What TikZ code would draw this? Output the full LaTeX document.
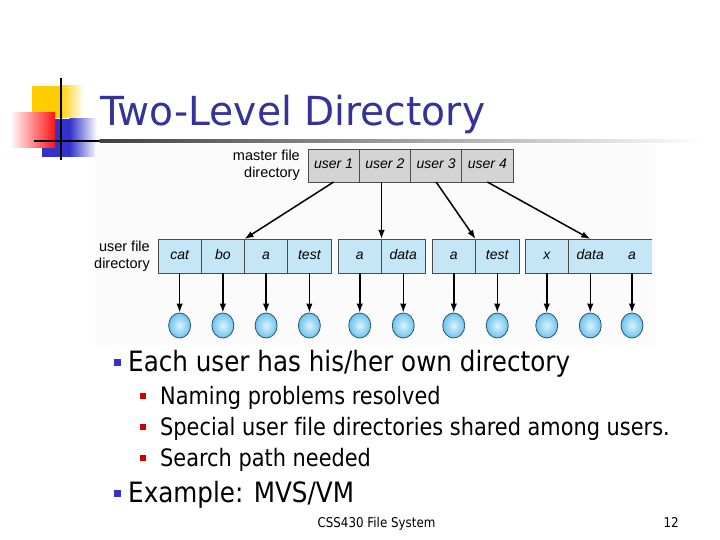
\documentclass[tikz,border=0pt]{standalone}
\usepackage{fontspec}
\setmainfont{DejaVu Sans}[FakeStretch=0.88, Ligatures=NoCommon]
\newfontfamily\subfont{DejaVu Sans}[FakeStretch=0.87, Ligatures=NoCommon]
\newfontfamily\titlefont{DejaVu Sans}[FakeStretch=0.98]
\newfontfamily\diag{Liberation Sans}
\usetikzlibrary{arrows.meta,shapes.geometric}
\definecolor{titleblue}{RGB}{51,51,153}
\definecolor{bulblue}{RGB}{51,51,204}
\definecolor{bulred}{RGB}{204,0,0}
\definecolor{logoyellow}{RGB}{255,204,0}
\definecolor{logored}{RGB}{255,20,20}
\definecolor{logoblue}{RGB}{51,51,204}
\definecolor{cellblue}{RGB}{196,230,246}
\definecolor{cellgray}{RGB}{212,212,212}
\definecolor{circedge}{RGB}{35,85,115}
\definecolor{circfill}{RGB}{110,195,236}
\definecolor{circlight}{RGB}{218,242,253}
\tikzset{
  cellb/.style={draw=black!70, fill=cellblue, line width=0.8pt, minimum height=34pt,
    inner sep=0pt, outer sep=0pt, anchor=west, text height=10pt, text depth=3pt,
    font=\diag\itshape\fontsize{14}{14}\selectfont},
  cellg/.style={draw=black!70, fill=cellgray, line width=0.8pt, minimum height=33pt,
    minimum width=51.25pt, inner sep=0pt, outer sep=0pt, anchor=west,
    text height=10pt, text depth=3pt,
    font=\diag\itshape\fontsize{14}{14}\selectfont},
  filec/.style={ellipse, draw=circedge, line width=0.8pt, minimum width=22pt, minimum height=25pt,
    inner sep=0pt, shading=radial, inner color=circlight, outer color=circfill},
  arr/.style={-{Latex[length=9pt,width=6.5pt]}, line width=1.5pt},
  lbl/.style={anchor=east, align=right, inner sep=0pt, font=\diag\fontsize{14.5}{17}\selectfont},
  bone/.style={fill=bulblue, minimum size=7pt, inner sep=0pt},
  btwo/.style={fill=bulred, minimum size=6pt, inner sep=0pt},
  txtone/.style={anchor=base west, inner sep=0pt, font=\fontsize{28}{28}\selectfont},
  txttwo/.style={anchor=base west, inner sep=0pt, font=\subfont\fontsize{24}{24}\selectfont},
}
\begin{document}
\begin{tikzpicture}[x=1pt,y=-1pt]
\useasboundingbox (0,0) rectangle (720,540);
\fill[white] (0,0) rectangle (720,540);
% logo
\fill[logoyellow] (32,86) rectangle (60,118);
\shade[left color=logoyellow, right color=white] (59.5,86) rectangle (84,118);
\fill[logoblue] (42,119) rectangle (70,157);
\shade[left color=logoblue, right color=white] (69.5,119) rectangle (97,157);
\shade[left color=white, right color=logored] (10,113) rectangle (55,148);
\fill[black] (34,139.8) rectangle (100,142.2);
\shade[left color=black!75, right color=white] (99.5,139.8) rectangle (705,142.2);
\draw[line width=2.5pt] (61,78) -- (61,160);
% title
\node[anchor=base west, inner sep=0pt, text=titleblue, font=\titlefont\fontsize{40}{40}\selectfont] (title) at (100,126) {Two-Level Directory};
% diagram background
\fill[black!1.5] (95,144) rectangle (655,345);
% master directory
\node[lbl] (mlbl) at (300,165.5) {master file\\directory};
\node[cellg] (u1) at (308,165.5) {user 1};
\node[cellg] (u2) at (359.25,165.5) {user 2};
\node[cellg] (u3) at (410.5,165.5) {user 3};
\node[cellg] (u4) at (461.75,165.5) {user 4};
% user file directories
\node[lbl] (ulbl) at (150,256) {user file\\directory};
\node[cellb, minimum width=43.25pt] (c1) at (158,256) {cat};
\node[cellb, minimum width=43.25pt] (c2) at (201.25,256) {bo};
\node[cellb, minimum width=43.25pt] (c3) at (244.5,256) {a};
\node[cellb, minimum width=43.25pt] (c4) at (287.75,256) {test};
\node[cellb, minimum width=43.5pt] (c5) at (338,256) {a};
\node[cellb, minimum width=43.5pt] (c6) at (381.5,256) {data};
\node[cellb, minimum width=43.5pt] (c7) at (432,256) {a};
\node[cellb, minimum width=43.5pt] (c8) at (475.5,256) {test};
\node[cellb, minimum width=43.5pt] (c9) at (525,256) {x};
\node[cellb, minimum width=43.5pt] (c10) at (568.5,256) {data};
\node[cellb, minimum width=40pt, draw=none] (c11) at (612,256) {a};
\draw[black!70, line width=0.8pt] (c11.north west) -- (c11.north east);
\draw[black!70, line width=0.8pt] (c11.south west) -- (c11.south east);
% master to user directories
\draw[arr] (u1.south) -- (c2.north east);
\draw[arr] (u2.south -| c5.north east) -- (c5.north east);
\draw[arr] (u3.south) -- (c7.north east);
\draw[arr] (u4.south) -- (c10.north);
% files
\foreach \c in {1,...,11}{
  \node[filec] (f\c) at (c\c.center |- 0,325.5) {};
  \draw[arr] (c\c.south) -- (f\c.north);
}
% bullets
\node[bone] (b1) at (117,362) {};
\node[txtone] (t1) at (128,371) {Each user has his/her own directory};
\node[btwo] (b2) at (143,396) {};
\node[txttwo] (t2) at (160,404) {Naming problems resolved};
\node[btwo] (b3) at (143,427) {};
\node[txttwo] (t3) at (160,435) {Special user file directories shared among users.};
\node[btwo] (b4) at (143,458) {};
\node[txttwo] (t4) at (160,466) {Search path needed};
\node[bone] (b5) at (117,493) {};
\node[txtone] (t5) at (128,502) {Example: MVS/VM};
% footer
\node[anchor=base, inner sep=0pt, font=\fontsize{13.5}{13.5}\selectfont] (foot) at (376.5,527) {CSS430 File System};
\node[anchor=base east, inner sep=0pt, font=\fontsize{13.5}{13.5}\selectfont] (pg) at (679,527) {12};
\end{tikzpicture}
\end{document}
